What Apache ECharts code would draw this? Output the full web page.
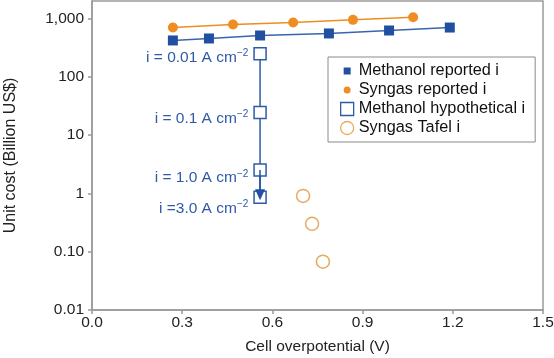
<!DOCTYPE html>
<html><head><meta charset="utf-8">
<script src="https://cdn.jsdelivr.net/npm/echarts@6/dist/echarts.min.js"></script>
<style>html,body{margin:0;padding:0;background:#fff}#c{width:554px;height:358px}</style>
</head><body><div id="c"></div>
<script>
var methX = [0.269, 0.389, 0.559, 0.788, 0.988, 1.19];
var methY = [421, 455, 512, 555, 624, 701];
var synX = [0.269, 0.469, 0.669, 0.868, 1.068];
var synY = [701, 789, 855, 950, 1052];
var hypX = [0.559, 0.559, 0.559, 0.559];
var hypY = [249, 24.4, 2.52, 0.86];
var hypLabels = ['0.01', '0.1', '1.0', '3.0'];
var hypPrefix = ['i = ', 'i = ', 'i = ', 'i ='];
var tafX = [0.702, 0.732, 0.768];
var tafY = [0.906, 0.301, 0.0675];
var yTickLabels = {'-2': '0.01', '-1': '0.10', '0': '1', '1': '10', '2': '100', '3': '1,000'};
var xTicks = ['0.0', '0.3', '0.6', '0.9', '1.2', '1.5'];

var BLUE = '#2150a0', ORANGE = '#ef8d22', TAF = '#e0953a', HYPBLUE = '#2f5aa6';
var FONT = 'Liberation Sans';

function zip(a, b) { return a.map(function (v, i) { return [v, b[i]]; }); }

var hypOffsets = [[0, 4], [0, 6], [0, 8], [0, 11]];
var hypData = hypX.map(function (x, i) {
  return {
    value: [x, hypY[i]],
    label: {
      show: true, position: 'left', distance: 5, offset: hypOffsets[i],
      formatter: hypPrefix[i] + hypLabels[i] + ' A cm{s|\u22122}'
    }
  };
});

var chart = echarts.init(document.getElementById('c'), null, {renderer: 'canvas'});
chart.setOption({
  animation: false,
  textStyle: {fontFamily: FONT},
  grid: {left: 92, right: 11, top: 1, bottom: 48, show: true, borderColor: '#9a9a9a', borderWidth: 1.5,
    containLabel: false, outerBoundsMode: 'none'},
  xAxis: {
    type: 'value', min: 0, max: 1.5, interval: 0.3,
    name: 'Cell overpotential (V)', nameLocation: 'middle', nameGap: 29,
    nameTextStyle: {fontSize: 15.5, color: '#222', fontFamily: FONT},
    axisLine: {lineStyle: {color: '#9a9a9a', width: 1.5}},
    axisTick: {show: true, length: 4, lineStyle: {color: '#9a9a9a', width: 1.5}},
    axisLabel: {fontSize: 15.5, color: '#222', margin: 5, fontFamily: FONT,
      formatter: function (v) { return xTicks[Math.round(v / 0.3)]; }},
    splitLine: {show: false}
  },
  yAxis: {
    type: 'log', logBase: 10, min: 0.01, max: 2000,
    name: 'Unit cost (Billion US$)', nameLocation: 'middle', nameGap: 73, nameRotate: 90,
    nameTextStyle: {fontSize: 16, color: '#222', fontFamily: FONT},
    axisLine: {show: true, lineStyle: {color: '#9a9a9a', width: 1.5}},
    axisTick: {show: true, length: 4, lineStyle: {color: '#9a9a9a', width: 1.5}},
    axisLabel: {fontSize: 15.5, color: '#222', margin: 8, showMaxLabel: false, fontFamily: FONT,
      formatter: function (v) { var k = Math.round(Math.log10(v)); return yTickLabels[String(k)] || ''; }},
    splitLine: {show: false}
  },
  legend: {
    orient: 'vertical', left: 328, top: 57, width: 200,
    borderColor: '#8a8a8a', borderWidth: 1, padding: [6, 10, 6, 12],
    itemGap: 3, itemWidth: 13, itemHeight: 13,
    textStyle: {fontSize: 16.3, color: '#111', fontFamily: FONT},
    data: [
      {name: 'Methanol reported i', icon: 'path://M0,0M13,13M3,3h7v7h-7z', itemStyle: {color: BLUE, borderWidth: 0}},
      {name: 'Syngas reported i', icon: 'path://M0,0M13,13M10,6.5A3.5,3.5,0,1,1,3,6.5A3.5,3.5,0,1,1,10,6.5z', itemStyle: {color: ORANGE, borderWidth: 0}},
      {name: 'Methanol hypothetical i', icon: 'rect', itemStyle: {color: '#fff', borderColor: HYPBLUE, borderWidth: 1.3}},
      {name: 'Syngas Tafel i', icon: 'circle', itemStyle: {color: '#fff', borderColor: TAF, borderWidth: 1.3}}
    ]
  },
  series: [
    {
      name: 'Syngas reported i', type: 'line', data: zip(synX, synY),
      symbol: 'circle', symbolSize: 10, itemStyle: {color: ORANGE},
      lineStyle: {color: ORANGE, width: 1.5}
    },
    {
      name: 'Methanol reported i', type: 'line', data: zip(methX, methY),
      symbol: 'rect', symbolSize: 10, itemStyle: {color: BLUE},
      lineStyle: {color: '#3a64ad', width: 1.5}
    },
    {
      name: 'Methanol hypothetical i', type: 'line', data: hypData,
      symbol: 'rect', symbolSize: 12, showAllSymbol: true,
      itemStyle: {color: '#fff', borderColor: HYPBLUE, borderWidth: 1.5},
      lineStyle: {color: HYPBLUE, width: 1.5},
      label: {
        fontSize: 15.5, color: HYPBLUE, fontFamily: FONT,
        rich: {s: {fontSize: 10, color: HYPBLUE, fontFamily: FONT, verticalAlign: 'top', padding: [0, 0, 8, 0]}}
      },
      markLine: {
        silent: true, symbol: ['none', 'triangle'], symbolSize: [10, 11],
        lineStyle: {color: BLUE, width: 1.5, type: 'solid'},
        label: {show: false},
        data: [[{coord: [hypX[2], hypY[2]]}, {coord: [hypX[3], hypY[3] * 1.1]}]]
      },
      z: 3
    },
    {
      name: 'Syngas Tafel i', type: 'scatter', data: zip(tafX, tafY),
      symbol: 'circle', symbolSize: 13,
      itemStyle: {color: '#fff', borderColor: TAF, borderWidth: 1.5}
    }
  ]
});
</script></body></html>
